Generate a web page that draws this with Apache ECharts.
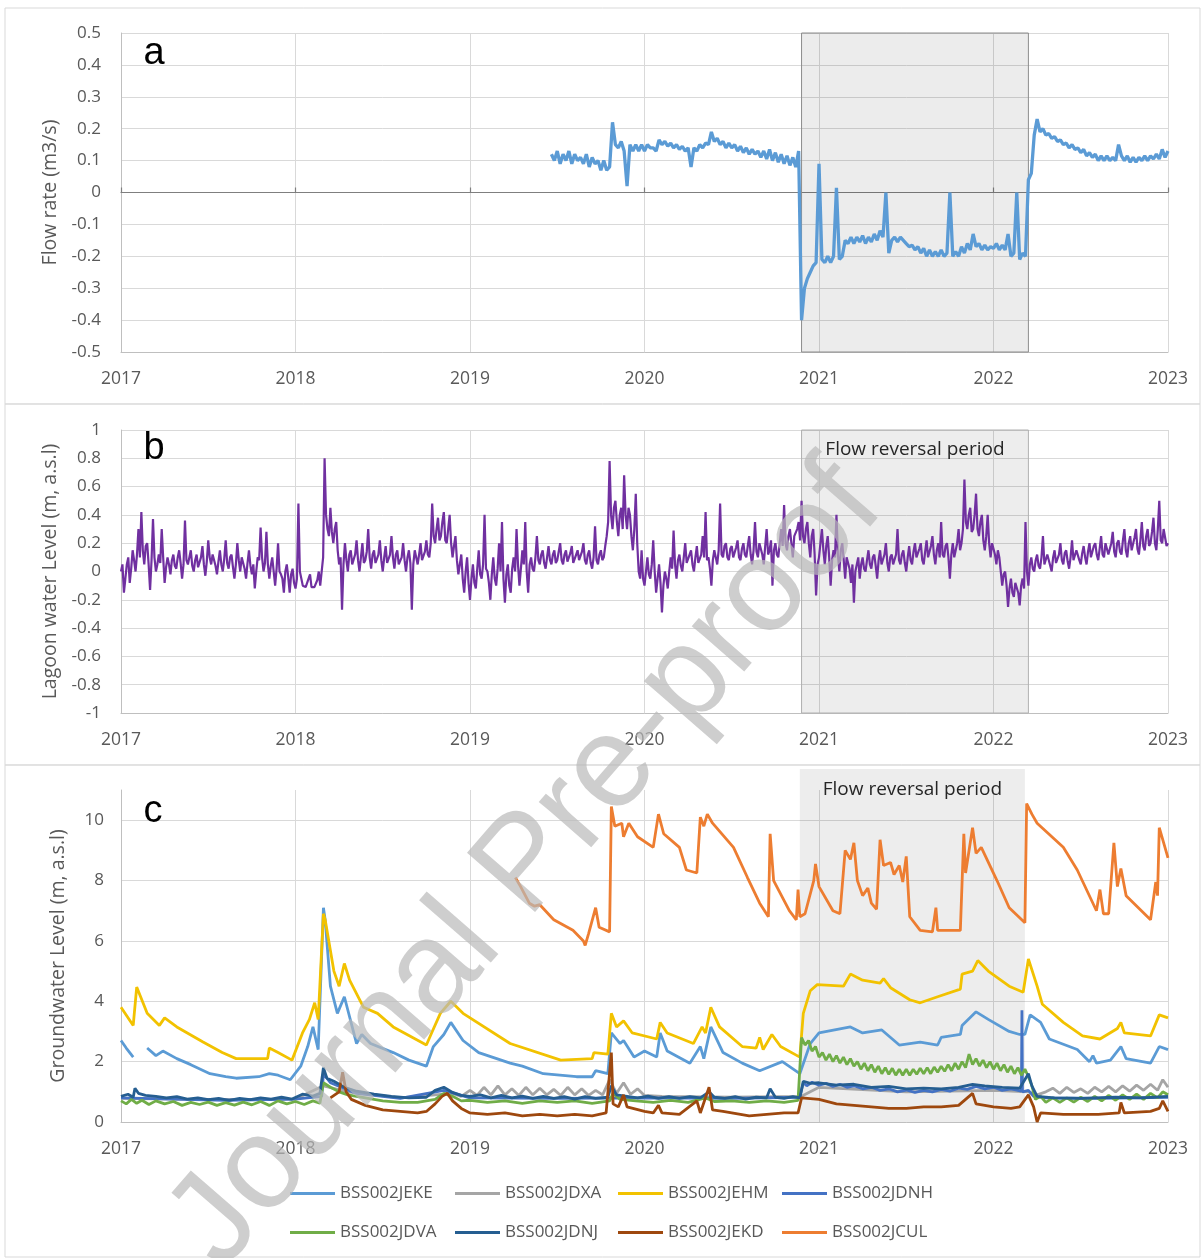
<!DOCTYPE html>
<html>
<head>
<meta charset="utf-8">
<script src="https://cdn.jsdelivr.net/npm/echarts/dist/echarts.min.js"></script>
<style>
html,body{margin:0;padding:0;background:#fff;}
#chart{width:1203px;height:1258px;}
</style>
</head>
<body>
<div id="chart"></div>
<script>
// ---------------- DATA ----------------
const yearTicks = [2017, 2018, 2019, 2020, 2021, 2022, 2023];
const reversalPeriodAB = [2020.90, 2022.20];
const reversalPeriodC = [2020.89, 2022.18];
const reversalLabel = 'Flow reversal period';

// (a) flow rate, m3/s — regular sampling every 1/60 year from mid-2019
const flowStart = 2019 + 28 / 60;
const flowStep = 1 / 60;
const flowRate = [
  0.12,0.10,0.13,0.09,0.12,0.10,0.13,0.09,0.12,0.10,
  0.11,0.09,0.12,0.08,0.11,0.09,0.10,0.07,0.10,0.07,
  0.08,0.22,0.15,0.14,0.16,0.13,0.02,0.15,0.13,0.15,
  0.13,0.15,0.13,0.15,0.14,0.14,0.13,0.165,0.15,0.16,
  0.145,0.155,0.14,0.15,0.135,0.145,0.13,0.14,0.08,0.14,
  0.13,0.15,0.14,0.155,0.15,0.19,0.16,0.17,0.15,0.16,
  0.14,0.155,0.14,0.15,0.13,0.145,0.125,0.14,0.12,0.135,
  0.12,0.13,0.11,0.13,0.105,0.135,0.1,0.125,0.095,0.12,
  0.09,0.115,0.085,0.11,0.08,0.13,-0.4,-0.3,-0.27,-0.25,
  -0.23,-0.22,0.09,-0.21,-0.22,-0.2,-0.22,-0.2,0.015,-0.21,
  -0.2,-0.15,-0.16,-0.14,-0.16,-0.14,-0.155,-0.135,-0.16,-0.14,
  -0.155,-0.13,-0.15,-0.12,-0.14,0.0,-0.19,-0.15,-0.14,-0.155,
  -0.14,-0.15,-0.16,-0.17,-0.165,-0.18,-0.17,-0.19,-0.175,-0.2,
  -0.18,-0.2,-0.185,-0.2,-0.18,-0.2,-0.19,0.0,-0.2,-0.185,
  -0.2,-0.17,-0.19,-0.16,-0.18,-0.13,-0.17,-0.16,-0.18,-0.165,
  -0.18,-0.17,-0.175,-0.16,-0.18,-0.165,-0.18,-0.13,-0.2,-0.19,
  0.0,-0.21,-0.19,-0.2,0.04,0.06,0.18,0.23,0.19,0.2,
  0.18,0.185,0.17,0.175,0.16,0.165,0.15,0.155,0.14,0.15,
  0.135,0.14,0.125,0.135,0.115,0.125,0.11,0.12,0.1,0.115,
  0.1,0.115,0.1,0.11,0.1,0.15,0.115,0.1,0.115,0.095,
  0.11,0.095,0.11,0.1,0.115,0.1,0.115,0.105,0.12,0.105,
  0.135,0.11,0.13
];

// (b) lagoon water level, m a.s.l — regular sampling every 1/120 year
const lagoonStart = 2017;
const lagoonStep = 1 / 120;
const lagoonLevel = [
  // 2017
  0,0.05,-0.15,-0.05,0.05,0.1,-0.08,0.02,0.15,0.08,0,0.12,0.3,0.1,0.42,0.15,0.05,0.18,0.2,0.05,
  -0.13,0.08,0.37,0.1,0,0.05,0.12,0.06,0.3,0.1,-0.08,0.03,0.1,0.05,-0.02,0.08,0.12,0.04,0.02,0.1,
  0.15,0.06,-0.05,0.05,0.36,0.08,0.05,0.1,0.15,0.04,0,0.08,0.12,0.03,0.02,0.1,0.18,0.05,-0.03,0.07,
  0.22,0.1,0.05,0.12,0.12,0.04,-0.02,0.07,0.15,0.05,0,0.09,0.22,0.06,0.02,0.1,0.12,0.03,-0.05,0.05,
  0.2,0.08,0,0.1,0.1,0.02,-0.05,0.06,0.15,0.04,-0.02,0.05,-0.12,0.0,0.1,0.08,0.31,0.1,0,0.06,
  0.28,0.05,-0.05,0.04,0.1,0.0,-0.1,0.02,0.2,0.0,-0.02,-0.05,-0.15,0.0,0.05,-0.04,-0.15,-0.02,0.02,-0.08,
  // 2018
  -0.12,-0.05,0.48,0.0,-0.05,-0.1,-0.11,-0.11,-0.11,-0.05,-0.02,-0.11,-0.11,-0.11,-0.11,-0.06,0,-0.1,-0.1,0.1,
  0.8,0.4,0.3,0.25,0.45,0.28,0.2,0.3,0.35,0.15,0.05,0.1,-0.27,0.05,0.2,0.08,0,0.12,0.15,0.05,
  0.05,0.12,0.22,0.08,0,0.1,0.2,0.06,0.08,0.14,0.3,0.1,0.02,0.12,0.15,0.06,0.05,0.12,0.22,0.08,
  0,0.1,0.18,0.06,0.05,0.12,0.25,0.1,0.02,0.12,0.15,0.05,0.05,0.1,0.2,0.08,0,0.1,0.15,0.06,
  -0.27,0.05,0.15,0.1,0.05,0.12,0.2,0.08,0.08,0.14,0.22,0.12,0.1,0.2,0.48,0.25,0.2,0.3,0.38,0.22,
  0.25,0.35,0.42,0.22,0.2,0.3,0.4,0.2,0.1,0.18,0.25,0.08,-0.02,0.05,0.12,-0.05,-0.15,0.0,0.1,-0.08,
  // 2019
  -0.2,-0.05,0.05,-0.08,-0.12,0.02,0.15,-0.02,-0.05,0.05,0.4,0.02,0,-0.08,-0.2,-0.02,0.1,-0.05,-0.1,0.02,
  0.2,0.0,0.35,-0.05,-0.22,-0.02,0.05,-0.1,-0.15,0.02,0.1,0.0,0.3,0.05,-0.1,0.02,0.15,0.05,0.35,0.0,
  -0.15,0.05,0.1,0.02,0,0.1,0.25,0.08,0.05,0.12,0.15,0.06,0.02,0.1,0.18,0.08,0.05,0.12,0.15,0.06,
  0.08,0.14,0.2,0.08,0.05,0.12,0.15,0.07,0.08,0.13,0.18,0.06,0.05,0.12,0.15,0.08,0.08,0.14,0.2,0.08,
  0.05,0.12,0.15,0.06,0.02,0.1,0.32,0.08,0.05,0.12,0.15,0.08,0.1,0.18,0.25,0.35,0.78,0.4,0.3,0.45,
  0.5,0.35,0.25,0.4,0.45,0.3,0.68,0.4,0.3,0.45,0.4,0.25,0.15,0.3,0.55,0.2,0,-0.05,0.15,-0.05,
  // 2020
  -0.1,0.0,0.1,-0.02,-0.05,0.05,0.22,0.0,-0.15,-0.05,0.05,-0.08,-0.29,-0.1,0,-0.05,-0.12,0.0,0.1,0.02,
  0.29,0.05,-0.05,0.08,0.12,0.04,0,0.1,0.2,0.06,0.05,0.12,0.15,0.05,0,0.1,0.18,0.06,0.05,0.12,
  0.25,0.1,0.42,0.08,0.1,0.02,-0.1,0.08,0.15,0.1,0.05,0.15,0.48,0.12,0.1,0.18,0.2,0.1,0.08,0.16,
  0.18,0.1,0.1,0.17,0.22,0.1,0.08,0.16,0.2,0.12,0.1,0.18,0.25,0.12,0.05,0.15,0.35,0.14,0.1,0.2,
  0.2,0.12,0.05,0.18,0.3,0.12,0.15,0.22,-0.1,0.15,0.2,0.12,0.1,0.2,0.3,0.18,0.47,0.2,0.15,0.25,
  0.3,0.2,0.1,0.25,0.25,0.3,0.35,0.22,0.5,0.25,0.2,0.3,0.35,0.2,0.1,0.25,0.3,0.12,-0.17,0.05,
  // 2021
  0.1,0.2,0.3,0.15,0.05,0.18,0.25,0.1,-0.1,0.08,0.15,0.1,0.4,0.12,0,0.15,0.2,0.08,-0.05,0.1,
  0.1,0.02,-0.08,0.05,-0.22,0.0,0.05,0.1,-0.05,0.05,0.1,0.02,0,0.08,0.15,0.05,0.02,0.1,0.12,0.04,
  -0.05,0.08,0.15,0.05,0.05,0.12,0.2,0.06,0,0.1,0.12,0.05,0.05,0.12,0.3,0.08,0.05,0.12,0.15,0.06,
  0,0.1,0.18,0.08,0.05,0.14,0.2,0.1,0.1,0.16,0.2,0.08,0.05,0.14,0.22,0.1,0.1,0.18,0.25,0.12,
  0.05,0.15,0.2,0.1,0.35,0.12,0.1,0.18,0.2,0.1,-0.05,0.12,0.2,0.1,0.1,0.2,0.3,0.15,0.2,0.3,
  0.65,0.35,0.3,0.4,0.45,0.28,0.3,0.4,0.55,0.3,0.25,0.35,0.4,0.22,0.15,0.25,0.4,0.2,0.1,0.2,
  // 2022
  0.2,0.12,0.05,0.15,0.1,0.0,-0.1,-0.02,0,-0.1,-0.25,-0.12,-0.05,-0.15,-0.18,-0.08,-0.08,-0.15,-0.24,-0.1,
  -0.05,-0.12,0.35,0.0,-0.1,0.05,0.1,0.02,0,0.08,0.12,0.04,0.02,0.1,0.25,0.05,0.05,0.12,0.12,0.04,
  0,0.1,0.15,0.06,0.05,0.12,0.2,0.08,0.05,0.13,0.15,0.07,0.02,0.1,0.22,0.08,0.08,0.15,0.15,0.08,
  0.05,0.13,0.18,0.1,0.05,0.14,0.2,0.1,0.1,0.18,0.2,0.12,0.08,0.16,0.25,0.12,0.1,0.2,0.2,0.12,
  0.12,0.2,0.28,0.14,0.1,0.2,0.22,0.14,0.12,0.22,0.3,0.15,0.1,0.2,0.25,0.15,0.15,0.24,0.3,0.16,
  0.12,0.22,0.35,0.18,0.15,0.25,0.3,0.18,0.2,0.28,0.38,0.2,0.15,0.3,0.5,0.22,0.2,0.3,0.3,0.18,
  // 2023.0
  0.2
];

// (c) groundwater levels, m a.s.l — [decimal year, level]
const wellNames = ['BSS002JEKE','BSS002JDXA','BSS002JEHM','BSS002JDNH','BSS002JDVA','BSS002JDNJ','BSS002JEKD','BSS002JCUL'];
const wellColors = ['#5b9bd5','#a5a5a5','#f2c200','#4472c4','#70ad47','#255e91','#9e480e','#ed7d31'];

const JEKE = [[2017.0,2.7],[2017.03,2.45],[2017.07,2.15],[2017.11,'-'],[2017.15,2.45],[2017.2,2.2],[2017.24,2.35],[2017.32,2.1],[2017.4,1.9],[2017.51,1.6],[2017.6,1.5],[2017.66,1.45],[2017.79,1.5],[2017.85,1.6],[2017.9,1.55],[2017.97,1.4],[2018.03,1.85],[2018.07,2.5],[2018.1,3.15],[2018.13,2.4],[2018.16,7.1],[2018.17,6.7],[2018.2,4.5],[2018.24,3.6],[2018.28,4.15],[2018.35,2.6],[2018.38,2.9],[2018.43,2.6],[2018.56,2.3],[2018.65,2.05],[2018.75,1.85],[2018.79,2.5],[2018.85,2.9],[2018.89,3.3],[2018.96,2.7],[2019.05,2.3],[2019.23,1.95],[2019.3,1.85],[2019.42,1.6],[2019.61,1.5],[2019.7,1.5],[2019.72,1.7],[2019.79,1.6],[2019.81,2.95],[2019.86,2.6],[2019.88,2.7],[2019.94,2.15],[2020.0,2.35],[2020.07,2.15],[2020.09,2.95],[2020.13,2.35],[2020.26,1.95],[2020.32,2.5],[2020.34,2.1],[2020.38,3.15],[2020.45,2.3],[2020.56,1.95],[2020.66,1.7],[2020.79,2.0],[2020.89,1.6],[2020.95,2.6],[2021.0,2.95],[2021.18,3.15],[2021.25,2.95],[2021.36,3.05],[2021.41,2.8],[2021.46,2.55],[2021.58,2.65],[2021.68,2.55],[2021.7,2.8],[2021.81,2.9],[2021.82,3.2],[2021.9,3.65],[2021.97,3.4],[2022.09,3.0],[2022.15,2.9],[2022.18,2.9],[2022.21,3.55],[2022.27,3.3],[2022.32,2.75],[2022.48,2.4],[2022.55,2.0],[2022.57,2.2],[2022.59,1.95],[2022.67,2.05],[2022.73,2.5],[2022.76,2.1],[2022.9,1.95],[2022.95,2.5],[2023.0,2.4]];

const JDXA = [[2017.0,0.78],[2017.5,0.74],[2018.0,0.76],[2018.16,1.2],[2018.3,1.0],[2018.6,0.8],[2018.9,0.95],[2018.95,0.85],[2019.0,1.05],[2019.04,0.88],[2019.08,1.15],[2019.12,0.9],[2019.16,1.2],[2019.2,0.9],[2019.24,1.1],[2019.28,0.88],[2019.32,1.15],[2019.36,0.9],[2019.4,1.12],[2019.44,0.9],[2019.48,1.08],[2019.52,0.88],[2019.56,1.15],[2019.6,0.9],[2019.64,1.1],[2019.68,0.88],[2019.72,1.05],[2019.76,0.9],[2019.8,1.4],[2019.84,0.95],[2019.88,1.3],[2019.92,0.92],[2019.96,1.1],[2020.0,0.88],[2020.1,0.85],[2020.5,0.82],[2020.9,0.85],[2021.0,1.15],[2021.5,1.0],[2022.0,1.05],[2022.2,1.0],[2022.25,0.9],[2022.3,1.0],[2022.34,1.12],[2022.38,0.95],[2022.42,1.15],[2022.46,0.98],[2022.5,1.1],[2022.54,0.95],[2022.58,1.15],[2022.62,1.0],[2022.66,1.18],[2022.7,1.0],[2022.74,1.2],[2022.78,1.02],[2022.82,1.22],[2022.86,1.05],[2022.9,1.25],[2022.94,1.05],[2022.97,1.4],[2023.0,1.15]];

const JEHM = [[2017.0,3.8],[2017.07,3.2],[2017.09,4.47],[2017.15,3.6],[2017.22,3.2],[2017.25,3.45],[2017.32,3.15],[2017.47,2.65],[2017.58,2.3],[2017.66,2.1],[2017.84,2.1],[2017.85,2.45],[2017.9,2.3],[2017.98,2.05],[2018.04,2.95],[2018.08,3.4],[2018.11,3.95],[2018.13,3.4],[2018.16,6.9],[2018.17,6.7],[2018.22,5.0],[2018.25,4.5],[2018.28,5.25],[2018.31,4.7],[2018.39,3.8],[2018.47,3.6],[2018.56,3.15],[2018.75,2.55],[2018.78,2.95],[2018.83,3.6],[2018.89,4.0],[2018.96,3.6],[2019.23,2.6],[2019.52,2.05],[2019.7,2.1],[2019.71,2.3],[2019.79,2.25],[2019.81,3.6],[2019.84,3.15],[2019.88,3.35],[2019.93,2.95],[2020.07,2.75],[2020.09,3.3],[2020.13,2.95],[2020.28,2.6],[2020.33,3.15],[2020.35,2.95],[2020.38,3.8],[2020.43,3.15],[2020.56,2.5],[2020.64,2.45],[2020.66,2.8],[2020.68,2.4],[2020.73,2.9],[2020.78,2.5],[2020.89,2.15],[2020.91,3.6],[2020.95,4.35],[2020.99,4.55],[2021.14,4.5],[2021.18,4.9],[2021.25,4.7],[2021.35,4.6],[2021.37,4.75],[2021.41,4.45],[2021.52,4.05],[2021.58,3.95],[2021.68,4.15],[2021.81,4.4],[2021.82,4.9],[2021.88,5.0],[2021.91,5.35],[2021.97,5.0],[2022.09,4.5],[2022.17,4.3],[2022.2,5.4],[2022.25,4.5],[2022.28,3.9],[2022.4,3.3],[2022.51,2.85],[2022.61,2.75],[2022.71,3.1],[2022.73,3.3],[2022.75,2.95],[2022.9,2.85],[2022.95,3.55],[2023.0,3.45]];

const JDNH = [[2017.0,0.8],[2017.3,0.76],[2017.6,0.72],[2018.0,0.76],[2018.15,0.85],[2018.16,1.6],[2018.2,1.3],[2018.35,0.95],[2018.6,0.78],[2018.85,1.05],[2019.0,0.8],[2019.5,0.78],[2020.0,0.8],[2020.5,0.78],[2020.89,0.82],[2020.91,1.3],[2020.93,1.2],[2020.96,1.32],[2021.0,1.22],[2021.04,1.28],[2021.08,1.18],[2021.12,1.25],[2021.16,1.15],[2021.2,1.2],[2021.25,1.1],[2021.3,1.15],[2021.35,1.05],[2021.4,1.1],[2021.45,1.0],[2021.5,1.06],[2021.55,0.98],[2021.6,1.05],[2021.65,1.0],[2021.7,1.08],[2021.75,1.02],[2021.8,1.12],[2021.85,1.08],[2021.9,1.18],[2021.95,1.1],[2022.0,1.15],[2022.05,1.05],[2022.1,1.1],[2022.16,1.02],[2022.163,3.7],[2022.166,1.0],[2022.2,1.05],[2022.23,0.85],[2022.3,0.8],[2022.6,0.78],[2023.0,0.82]];

const JDVA = [[2017.0,0.7],[2017.03,0.6],[2017.06,0.75],[2017.09,0.62],[2017.12,0.72],[2017.16,0.58],[2017.2,0.7],[2017.25,0.6],[2017.3,0.68],[2017.35,0.55],[2017.4,0.65],[2017.45,0.58],[2017.5,0.66],[2017.55,0.55],[2017.6,0.64],[2017.65,0.56],[2017.7,0.66],[2017.75,0.57],[2017.8,0.68],[2017.85,0.55],[2017.9,0.7],[2017.95,0.6],[2018.0,0.68],[2018.05,0.58],[2018.1,0.7],[2018.14,0.62],[2018.16,1.3],[2018.2,1.15],[2018.25,1.0],[2018.3,0.9],[2018.35,0.85],[2018.4,0.8],[2018.5,0.7],[2018.6,0.65],[2018.7,0.65],[2018.8,0.75],[2018.85,0.95],[2018.9,0.85],[2018.95,0.7],[2019.0,0.72],[2019.1,0.65],[2019.2,0.7],[2019.3,0.62],[2019.4,0.7],[2019.5,0.65],[2019.6,0.7],[2019.7,0.62],[2019.8,0.7],[2019.82,0.95],[2019.86,0.75],[2019.95,0.7],[2020.05,0.65],[2020.15,0.72],[2020.25,0.65],[2020.35,0.8],[2020.4,0.68],[2020.5,0.7],[2020.6,0.65],[2020.7,0.7],[2020.8,0.65],[2020.88,0.72],[2020.9,2.8],[2020.92,2.55],[2020.94,2.7],[2020.96,2.35],[2020.98,2.5],[2021.0,2.15],[2021.02,2.3],[2021.04,2.05],[2021.06,2.25],[2021.08,2.0],[2021.1,2.2],[2021.12,1.95],[2021.14,2.15],[2021.16,1.9],[2021.18,2.1],[2021.2,1.85],[2021.22,2.0],[2021.24,1.75],[2021.26,1.95],[2021.28,1.7],[2021.3,1.9],[2021.32,1.65],[2021.34,1.85],[2021.36,1.6],[2021.38,1.8],[2021.4,1.58],[2021.42,1.78],[2021.44,1.55],[2021.46,1.75],[2021.48,1.55],[2021.5,1.75],[2021.52,1.55],[2021.54,1.75],[2021.56,1.58],[2021.58,1.78],[2021.6,1.6],[2021.62,1.8],[2021.64,1.6],[2021.66,1.82],[2021.68,1.65],[2021.7,1.85],[2021.72,1.68],[2021.74,1.9],[2021.76,1.7],[2021.78,1.95],[2021.8,1.75],[2021.82,2.0],[2021.84,1.8],[2021.86,2.25],[2021.88,1.9],[2021.9,2.1],[2021.92,1.85],[2021.94,2.05],[2021.96,1.8],[2021.98,2.0],[2022.0,1.75],[2022.02,1.95],[2022.04,1.7],[2022.06,1.9],[2022.08,1.65],[2022.1,1.85],[2022.12,1.6],[2022.14,1.8],[2022.16,1.55],[2022.18,1.75],[2022.2,1.5],[2022.22,1.2],[2022.24,0.75],[2022.27,0.85],[2022.3,0.65],[2022.34,0.8],[2022.38,0.65],[2022.42,0.8],[2022.46,0.66],[2022.5,0.82],[2022.54,0.68],[2022.58,0.85],[2022.62,0.7],[2022.66,0.88],[2022.7,0.72],[2022.74,0.9],[2022.78,0.75],[2022.82,0.92],[2022.86,0.75],[2022.9,0.95],[2022.94,0.8],[2022.97,1.0],[2023.0,0.9]];

const JDNJ = [[2017.0,0.85],[2017.04,0.92],[2017.07,0.82],[2017.08,1.12],[2017.1,0.95],[2017.14,0.88],[2017.2,0.85],[2017.26,0.8],[2017.32,0.84],[2017.38,0.76],[2017.44,0.8],[2017.5,0.74],[2017.56,0.78],[2017.62,0.72],[2017.68,0.78],[2017.74,0.74],[2017.8,0.8],[2017.86,0.76],[2017.92,0.82],[2017.98,0.76],[2018.04,0.92],[2018.1,0.86],[2018.14,0.95],[2018.16,1.8],[2018.18,1.45],[2018.22,1.35],[2018.28,1.15],[2018.35,1.02],[2018.45,0.92],[2018.55,0.85],[2018.65,0.8],[2018.75,0.82],[2018.8,1.05],[2018.85,1.15],[2018.9,0.98],[2018.95,0.88],[2019.0,0.85],[2019.06,0.9],[2019.12,0.8],[2019.18,0.88],[2019.24,0.8],[2019.3,0.86],[2019.36,0.78],[2019.42,0.85],[2019.48,0.78],[2019.54,0.84],[2019.6,0.76],[2019.66,0.84],[2019.72,0.78],[2019.79,0.82],[2019.81,1.2],[2019.84,0.9],[2019.9,0.85],[2019.96,0.8],[2020.02,0.86],[2020.08,0.78],[2020.14,0.84],[2020.2,0.78],[2020.26,0.84],[2020.32,0.8],[2020.37,1.0],[2020.4,0.82],[2020.46,0.78],[2020.52,0.84],[2020.58,0.76],[2020.64,0.82],[2020.7,0.8],[2020.72,1.1],[2020.75,0.82],[2020.8,0.78],[2020.85,0.84],[2020.89,0.8],[2020.91,1.35],[2020.95,1.28],[2021.0,1.3],[2021.1,1.22],[2021.2,1.25],[2021.3,1.15],[2021.4,1.18],[2021.5,1.1],[2021.6,1.12],[2021.7,1.1],[2021.8,1.15],[2021.88,1.25],[2021.95,1.2],[2022.05,1.15],[2022.15,1.12],[2022.2,1.6],[2022.22,1.2],[2022.25,0.85],[2022.35,0.8],[2022.5,0.78],[2022.7,0.82],[2022.85,0.8],[2023.0,0.85]];

const JEKD = [[2018.2,0.8],[2018.25,1.0],[2018.27,1.65],[2018.29,1.0],[2018.32,0.75],[2018.4,0.55],[2018.5,0.4],[2018.6,0.35],[2018.7,0.3],[2018.75,0.35],[2018.8,0.6],[2018.84,0.85],[2018.87,0.95],[2018.9,0.7],[2018.95,0.45],[2019.0,0.3],[2019.1,0.25],[2019.2,0.3],[2019.3,0.2],[2019.4,0.25],[2019.5,0.2],[2019.6,0.25],[2019.7,0.2],[2019.78,0.3],[2019.81,2.3],[2019.82,0.6],[2019.85,0.5],[2019.88,0.9],[2019.9,0.5],[2020.0,0.35],[2020.05,0.3],[2020.08,0.55],[2020.1,0.3],[2020.2,0.25],[2020.3,0.7],[2020.32,0.3],[2020.37,1.15],[2020.39,0.4],[2020.45,0.35],[2020.6,0.2],[2020.7,0.25],[2020.8,0.3],[2020.88,0.3],[2020.9,0.8],[2021.0,0.75],[2021.1,0.6],[2021.2,0.55],[2021.3,0.5],[2021.4,0.45],[2021.5,0.45],[2021.6,0.5],[2021.7,0.5],[2021.8,0.55],[2021.88,0.95],[2021.9,0.6],[2022.0,0.5],[2022.1,0.45],[2022.15,0.5],[2022.2,0.9],[2022.23,0.5],[2022.25,0.0],[2022.27,0.3],[2022.4,0.25],[2022.6,0.25],[2022.72,0.3],[2022.73,0.65],[2022.75,0.3],[2022.9,0.35],[2022.95,0.45],[2022.97,0.7],[2023.0,0.35]];

const JCUL = [[2019.26,8.1],[2019.29,7.8],[2019.34,7.25],[2019.37,7.15],[2019.4,7.2],[2019.48,6.7],[2019.59,6.35],[2019.65,6.0],[2019.66,5.85],[2019.68,6.25],[2019.72,7.1],[2019.74,6.45],[2019.8,6.3],[2019.81,10.45],[2019.83,9.8],[2019.87,9.9],[2019.88,9.45],[2019.91,9.9],[2019.96,9.45],[2020.05,9.1],[2020.08,10.2],[2020.11,9.55],[2020.2,9.1],[2020.24,8.35],[2020.3,8.25],[2020.32,10.1],[2020.34,9.8],[2020.36,10.2],[2020.39,9.9],[2020.51,9.1],[2020.59,8.1],[2020.66,7.25],[2020.71,6.8],[2020.72,9.55],[2020.74,8.0],[2020.83,7.0],[2020.87,6.7],[2020.88,7.7],[2020.89,6.8],[2020.92,6.9],[2020.97,8.0],[2020.98,8.55],[2021.0,7.8],[2021.08,7.0],[2021.12,6.9],[2021.15,9.0],[2021.18,8.7],[2021.2,9.25],[2021.22,8.0],[2021.25,7.5],[2021.28,7.75],[2021.3,7.25],[2021.33,7.05],[2021.35,9.35],[2021.37,8.5],[2021.41,8.6],[2021.43,8.2],[2021.46,8.5],[2021.48,7.95],[2021.5,8.8],[2021.52,6.8],[2021.58,6.35],[2021.65,6.3],[2021.67,7.1],[2021.68,6.35],[2021.81,6.35],[2021.83,9.55],[2021.84,8.25],[2021.88,9.75],[2021.9,8.9],[2021.93,9.1],[2022.02,8.0],[2022.09,7.1],[2022.18,6.6],[2022.19,10.55],[2022.22,10.2],[2022.25,9.9],[2022.4,9.1],[2022.48,8.35],[2022.59,7.0],[2022.61,7.7],[2022.63,6.9],[2022.66,6.9],[2022.69,9.25],[2022.71,7.8],[2022.73,8.4],[2022.76,7.5],[2022.9,6.7],[2022.93,7.95],[2022.94,7.5],[2022.95,9.75],[2023.0,8.75]];

const wellSeries = [JEKE, JDXA, JEHM, JDNH, JDVA, JDNJ, JEKD, JCUL];

// ---------------- CHART ----------------
const FONT = 'Open Sans';
const TXT = '#595959';
const GRIDC = '#d9d9d9';
const AXC = '#bfbfbf';
const chart = echarts.init(document.getElementById('chart'), null, {renderer: 'canvas'});

const flowData = flowRate.map((v, i) => [flowStart + i * flowStep, v]);
const lagoonData = lagoonLevel.map((v, i) => [lagoonStart + i * lagoonStep, v]);

const yearFmt = v => String(Math.round(v));
function xAxisBase(gridIndex) {
  return {
    gridIndex, type: 'value', min: yearTicks[0], max: yearTicks[yearTicks.length - 1], interval: 1,
    position: 'bottom',
    axisLine: {show: true, onZero: false, lineStyle: {color: AXC, width: 1}},
    axisTick: {show: false},
    axisLabel: {margin: 18, color: TXT, fontSize: 17.5, fontFamily: FONT, formatter: yearFmt},
    splitLine: {show: true, lineStyle: {color: GRIDC, width: 1}}
  };
}
function yAxisBase(gridIndex, min, max, interval, name, nameGap, margin) {
  return {
    gridIndex, type: 'value', min, max, interval,
    name, nameLocation: 'middle', nameGap,
    nameTextStyle: {color: TXT, fontSize: 19.5, fontFamily: FONT},
    axisLine: {show: true, onZero: false, lineStyle: {color: AXC, width: 1}},
    axisTick: {show: false},
    axisLabel: {margin, color: TXT, fontSize: 17, fontFamily: FONT},
    splitLine: {show: true, lineStyle: {color: GRIDC, width: 1}}
  };
}

const yC = yAxisBase(2, 0, 11, 2, 'Groundwater Level (m, a.s.l)', 53, 17);
yC.axisLabel.showMaxLabel = false;
yC.splitLine.lineStyle.color = [GRIDC, GRIDC, GRIDC, GRIDC, GRIDC, GRIDC, 'rgba(0,0,0,0)'];

const series = [
  {
    name: 'Flow rate', type: 'line', xAxisIndex: 0, yAxisIndex: 0, data: flowData,
    showSymbol: false, symbol: 'none', z: 3,
    lineStyle: {color: '#5b9bd5', width: 3.3}, itemStyle: {color: '#5b9bd5'},
    markArea: {
      silent: true,
      itemStyle: {color: 'rgba(0,0,0,0.075)', borderColor: '#8c8c8c', borderWidth: 1},
      data: [[{xAxis: reversalPeriodAB[0]}, {xAxis: reversalPeriodAB[1]}]]
    }
  },
  {
    name: 'Lagoon', type: 'line', xAxisIndex: 2, yAxisIndex: 1, data: lagoonData,
    showSymbol: false, symbol: 'none', z: 3,
    lineStyle: {color: '#7030a0', width: 2.2}, itemStyle: {color: '#7030a0'},
    markArea: {
      silent: true,
      itemStyle: {color: 'rgba(0,0,0,0.07)', borderColor: '#b0b0b0', borderWidth: 1},
      label: {show: true, position: 'insideTop', distance: 11, color: '#262626', fontSize: 19, fontFamily: FONT, formatter: reversalLabel},
      data: [[{xAxis: reversalPeriodAB[0]}, {xAxis: reversalPeriodAB[1]}]]
    }
  },
  {
    name: 'shadeC', type: 'line', xAxisIndex: 4, yAxisIndex: 3, data: [],
    showSymbol: false, symbol: 'none', z: 1,
    markArea: {
      silent: true,
      itemStyle: {color: 'rgba(0,0,0,0.07)'},
      label: {show: true, position: 'insideTop', distance: 11, color: '#262626', fontSize: 19, fontFamily: FONT, formatter: reversalLabel},
      data: [[{xAxis: reversalPeriodC[0]}, {xAxis: reversalPeriodC[1]}]]
    }
  }
];
wellNames.forEach((n, k) => {
  series.push({
    name: n, type: 'line', xAxisIndex: 3, yAxisIndex: 2, data: wellSeries[k],
    showSymbol: false, symbol: 'none', connectNulls: false, z: 3,
    lineStyle: {color: wellColors[k], width: 2.8}, itemStyle: {color: wellColors[k]}
  });
});

// one legend per entry so the 4 columns line up like the original
const legendCols = [290, 455, 618, 782];
const legendRows = [1185, 1224];
const legends = wellNames.map((n, k) => ({
  top: legendRows[Math.floor(k / 4)], left: legendCols[k % 4], data: [n], padding: 0,
  icon: 'rect', itemWidth: 45, itemHeight: 3, itemGap: 0, selectedMode: false,
  textStyle: {color: TXT, fontSize: 17, fontFamily: FONT}
}));

const frame = (y, h) => ({type: 'rect', shape: {x: 5, y, width: 1195, height: h}, style: {fill: 'none', stroke: '#d9d9d9', lineWidth: 1}, z: 0, silent: true});
const letter = (t, x, y) => ({type: 'text', x, y, style: {text: t, fontSize: 38, fontFamily: 'Liberation Sans', fill: '#000', align: 'center', verticalAlign: 'middle'}, z: 50, silent: true});

const option = {
  backgroundColor: '#ffffff',
  animation: false,
  textStyle: {fontFamily: FONT},
  grid: [
    {left: 121, right: 35, top: 33, height: 319},
    {left: 121, right: 35, top: 430, height: 283},
    {left: 121, right: 35, top: 790, height: 332},
    {left: 121, right: 35, top: 769, height: 353}
  ],
  xAxis: [
    xAxisBase(0),
    {
      gridIndex: 0, type: 'value', min: 2017, max: 2023, interval: 1, position: 'top',
      axisLine: {show: true, onZero: true, lineStyle: {color: '#7f7f7f', width: 1.2}},
      axisTick: {show: true, length: 5, lineStyle: {color: '#7f7f7f', width: 1.2}},
      axisLabel: {show: false}, splitLine: {show: false}
    },
    xAxisBase(1),
    xAxisBase(2),
    {gridIndex: 3, type: 'value', min: 2017, max: 2023, show: false}
  ],
  yAxis: [
    yAxisBase(0, -0.5, 0.5, 0.1, 'Flow rate (m3/s)', 60, 20),
    yAxisBase(1, -1, 1, 0.2, 'Lagoon water Level (m, a.s.l)', 60, 20),
    yC,
    {gridIndex: 3, type: 'value', min: 0, max: 1, show: false}
  ],
  legend: legends,
  series,
  graphic: [
    frame(8, 396), frame(404, 361), frame(765, 492),
    letter('a', 154, 54), letter('b', 154, 449), letter('c', 153, 812),
    {
      type: 'text', x: 527, y: 866, rotation: 49 * Math.PI / 180, z: 100, silent: true,
      style: {text: 'Journal Pre-proof', fontSize: 131, fontFamily: 'Liberation Sans', fill: 'rgba(185,185,185,0.7)', align: 'center', verticalAlign: 'middle'}
    }
  ]
};
chart.setOption(option);
</script>
</body>
</html>
